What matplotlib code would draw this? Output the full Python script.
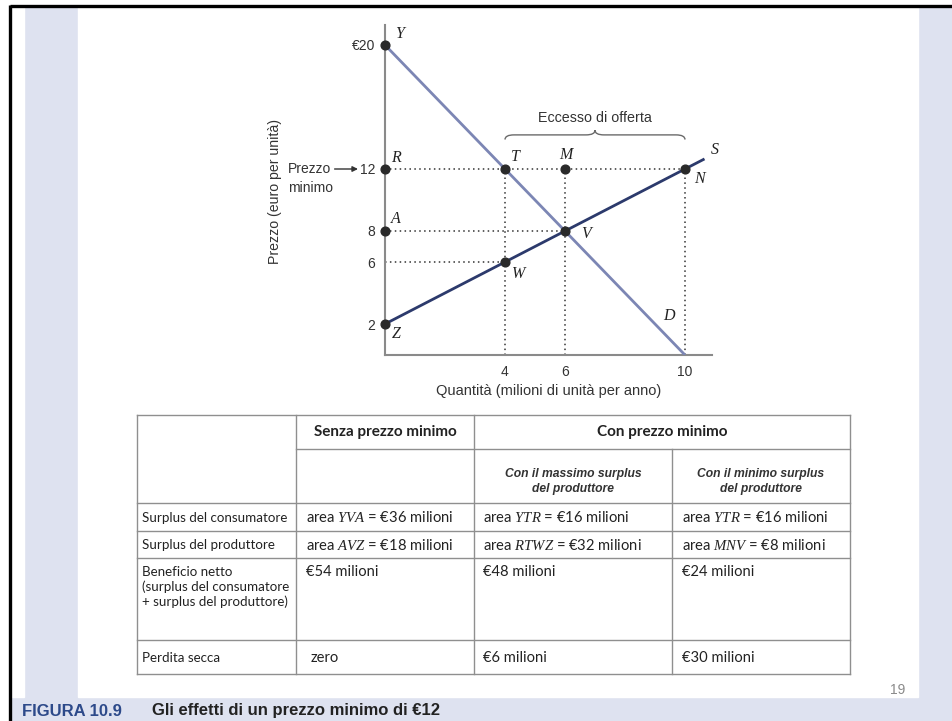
import matplotlib
matplotlib.use("Agg")
import matplotlib.pyplot as plt
from matplotlib.patches import Rectangle, PathPatch
from matplotlib.path import Path

plt.rcParams['font.family'] = ['Liberation Sans', 'DejaVu Sans']
plt.rcParams['mathtext.fontset'] = 'custom'
plt.rcParams['mathtext.it'] = 'Liberation Serif:italic'
plt.rcParams['mathtext.rm'] = 'Liberation Serif'

# ---------------- data ----------------
demand_q = [0, 10]
demand_p = [20, 0]
supply_q = [0, 10.65]
supply_p = [2, 12.65]

points = {  # name: (quantity, price)
    'Y': (0, 20), 'R': (0, 12), 'A': (0, 8), 'Z': (0, 2),
    'T': (4, 12), 'M': (6, 12), 'N': (10, 12), 'V': (6, 8), 'W': (4, 6),
}
label_offsets_px = {
    'Y': (15, 11), 'R': (11, 11), 'A': (11, 12), 'Z': (11, -10),
    'T': (10, 12), 'M': (1, 14), 'N': (14, -10), 'V': (21, -3), 'W': (14, -12),
}
price_floor = 12
yticks = [2, 6, 8, 12, 20]
ytick_labels = ['2', '6', '8', '12', '€20']
xticks = [4, 6, 10]
xtick_labels = ['4', '6', '10']

row_labels = ["Surplus del consumatore", "Surplus del produttore",
              "Beneficio netto\n(surplus del consumatore\n+ surplus del produttore)",
              "Perdita secca"]
col_senza = ["area $YVA$ = €36 milioni", "area $AVZ$ = €18 milioni", "€54 milioni", "zero"]
col_max = ["area $YTR$ = €16 milioni", "area $RTWZ$ = €32 milioni", "€48 milioni", "€6 milioni"]
col_min = ["area $YTR$ = €16 milioni", "area $MNV$ = €8 milioni", "€24 milioni", "€30 milioni"]
header_top = ["Senza prezzo minimo", "Con prezzo minimo"]
header_sub = ["Con il massimo surplus\ndel produttore", "Con il minimo surplus\ndel produttore"]

W, H = 953, 721
fig = plt.figure(figsize=(W / 100, H / 100), dpi=100)
fig.patch.set_facecolor('#dee2f0')

# ---------------- background / page ----------------
bg = fig.add_axes([0, 0, 1, 1])
bg.set_xlim(0, W)
bg.set_ylim(H, 0)
bg.axis('off')
bg.add_patch(Rectangle((0, 0), W, 5, color='white', zorder=0))
bg.add_patch(Rectangle((0, 0), 10, H, color='white', zorder=0))
bg.add_patch(Rectangle((12, 7), 12, 690, color='white', zorder=0))
bg.add_patch(Rectangle((78, 7), 840, 690, color='white', zorder=0))
bg.plot([10, W], [5.5, 5.5], color='black', lw=2.4, solid_capstyle='butt')
bg.plot([10.5, 10.5], [5, H], color='black', lw=2.4, solid_capstyle='butt')

# ---------------- table ----------------
lc = '#8f8f8f'
x0, x1, x2, x3, x4 = 137, 296, 474, 672, 850
ys = [415, 449, 503, 530.5, 558, 639.5, 674]
tl = dict(color=lc, lw=1.0)
bg.plot([x0, x4], [ys[0], ys[0]], **tl)
bg.plot([x1, x4], [ys[1], ys[1]], **tl)
for yy in ys[2:]:
    bg.plot([x0, x4], [yy, yy], **tl)
for xx in (x0, x1, x2, x4):
    bg.plot([xx, xx], [ys[0], ys[-1]], **tl)
bg.plot([x3, x3], [ys[1], ys[-1]], **tl)

body_font = ['Lato', 'DejaVu Sans']
bg.text((x1 + x2) / 2, 432, header_top[0], ha='center', va='center', fontsize=11,
        fontweight='bold', family=body_font, color='#222222')
bg.text((x2 + x4) / 2, 432, header_top[1], ha='center', va='center', fontsize=11,
        fontweight='bold', family=body_font, color='#222222')
for cx, txt in zip(((x2 + x3) / 2, (x3 + x4) / 2), header_sub):
    for k, line in enumerate(txt.split('\n')):
        bg.text(cx, 474 + 15 * k, line, ha='center', va='center', fontsize=8.7,
                fontweight='bold', style='italic', color='#333333')

row_y = [517.5, 545, 572, 657.5]
for r, lab in enumerate(row_labels):
    for k, line in enumerate(lab.split('\n')):
        bg.text(142.5, row_y[r] + 15 * k, line, ha='left', va='center', fontsize=9.6,
                family=body_font, color='#222222')
for cx, col in zip((306.5, 483, 682), (col_senza, col_max, col_min)):
    for r, txt in enumerate(col):
        bg.text(cx + (4 if txt == 'zero' else 0), row_y[r], txt, ha='left', va='center',
                fontsize=10.6, family=body_font, color='#222222')

# caption and page number
bg.text(22, 711, "FIGURA 10.9", ha='left', va='center', fontsize=12, fontweight='bold',
        color='#2d4a8a')
bg.text(152, 711, "Gli effetti di un prezzo minimo di €12", ha='left', va='center',
        fontsize=12, fontweight='bold', color='#222222')
bg.text(898, 690, "19", ha='center', va='center', fontsize=10, color='#8a8a8a')

# ---------------- chart ----------------
px0, py0 = 385, 355      # pixel of (0,0)
sx, sy = 30.0, 15.5      # pixels per unit
xmax, ymax = 10.9, 21.3
ax = fig.add_axes([px0 / W, 1 - py0 / H, xmax * sx / W, ymax * sy / H])
ax.set_xlim(0, xmax)
ax.set_ylim(0, ymax)
ax.patch.set_alpha(0)
for s in ('top', 'right'):
    ax.spines[s].set_visible(False)
for s in ('left', 'bottom'):
    ax.spines[s].set_color('#8a8a8a')
    ax.spines[s].set_linewidth(1.5)
ax.set_xticks(xticks)
ax.set_xticklabels(xtick_labels)
ax.set_yticks(yticks)
ax.set_yticklabels(ytick_labels)
ax.tick_params(length=0, labelsize=10, colors='#333333')
ax.tick_params(axis='y', pad=7)
ax.tick_params(axis='x', pad=7)

dot = dict(color='#333333', ls=(0, (1, 2.2)), lw=1.1)
Tq, Tp = points['T']
Mq, Mp = points['M']
Nq, Np = points['N']
Vq, Vp = points['V']
Wq, Wp = points['W']
ax.plot([0, Nq], [price_floor, price_floor], **dot)
ax.plot([0, Vq], [Vp, Vp], **dot)
ax.plot([0, Wq], [Wp, Wp], **dot)
ax.plot([Tq, Tq], [0, Tp], **dot)
ax.plot([Mq, Mq], [0, Mp], **dot)
ax.plot([Nq, Nq], [0, Np], **dot)

ax.plot(demand_q, demand_p, color='#7c86b4', lw=2.0, solid_capstyle='butt', zorder=3)
ax.plot(supply_q, supply_p, color='#2c3a6c', lw=2.0, solid_capstyle='butt', zorder=3)

for name, (q, p) in points.items():
    ax.plot(q, p, 'o', color='#2a2a2a', ms=6.3, clip_on=False, zorder=5)
    dx, dy = label_offsets_px[name]
    ax.annotate(name, (q, p), xytext=(dx * 0.72, dy * 0.72), textcoords='offset points',
                ha='center', va='center', fontsize=11.5, family='Liberation Serif',
                style='italic', color='#222222', annotation_clip=False)
ax.text(9.48, 2.5, 'D', ha='center', va='center', fontsize=11.5, family='Liberation Serif',
        style='italic', color='#222222')
ax.text(11.0, 13.2, 'S', ha='center', va='center', fontsize=11.5, family='Liberation Serif',
        style='italic', color='#222222', clip_on=False)

# brace + excess supply
bx0, bx1, bm = Tq, Nq, (Tq + Nq) / 2
yb, yl, yt = 13.9, 14.2, 14.5
verts = [(bx0, yb), (bx0, yl), (bx0 + 0.3, yl), (bm - 0.3, yl), (bm, yl), (bm, yt),
         (bm, yl), (bm + 0.3, yl), (bx1 - 0.3, yl), (bx1, yl), (bx1, yb)]
codes = [Path.MOVETO, Path.CURVE3, Path.CURVE3, Path.LINETO, Path.CURVE3, Path.CURVE3,
         Path.CURVE3, Path.CURVE3, Path.LINETO, Path.CURVE3, Path.CURVE3]
ax.add_patch(PathPatch(Path(verts, codes), fill=False, edgecolor='#6a6a6a', lw=1.0,
                       clip_on=False))
ax.text(bm, 15.3, 'Eccesso di offerta', ha='center', va='center', fontsize=10.3,
        color='#333333')

# price floor annotation
ax.text(-3.23, 12, 'Prezzo', ha='left', va='center', fontsize=10, color='#333333',
        clip_on=False)
ax.text(-3.23, 10.8, 'minimo', ha='left', va='center', fontsize=10, color='#333333',
        clip_on=False)
ax.annotate('', xy=(-0.9, 12), xytext=(-1.68, 12),
            arrowprops=dict(arrowstyle='-|>', color='#333333', lw=1.0,
                            mutation_scale=8, shrinkA=0, shrinkB=0),
            annotation_clip=False)

ax.set_xlabel('Quantità (milioni di unità per anno)', fontsize=10.5, color='#333333')
ax.xaxis.set_label_coords((549 - px0) / (xmax * sx), (py0 - 384) / (ymax * sy))
ax.xaxis.label.set_va('top')
ax.text((275 - px0) / (xmax * sx), (py0 - 192) / (ymax * sy), 'Prezzo (euro per unità)',
        transform=ax.transAxes, rotation=90, ha='center', va='center', fontsize=10.2,
        color='#333333')

fig.savefig('out.png', dpi=100, facecolor=fig.get_facecolor())
